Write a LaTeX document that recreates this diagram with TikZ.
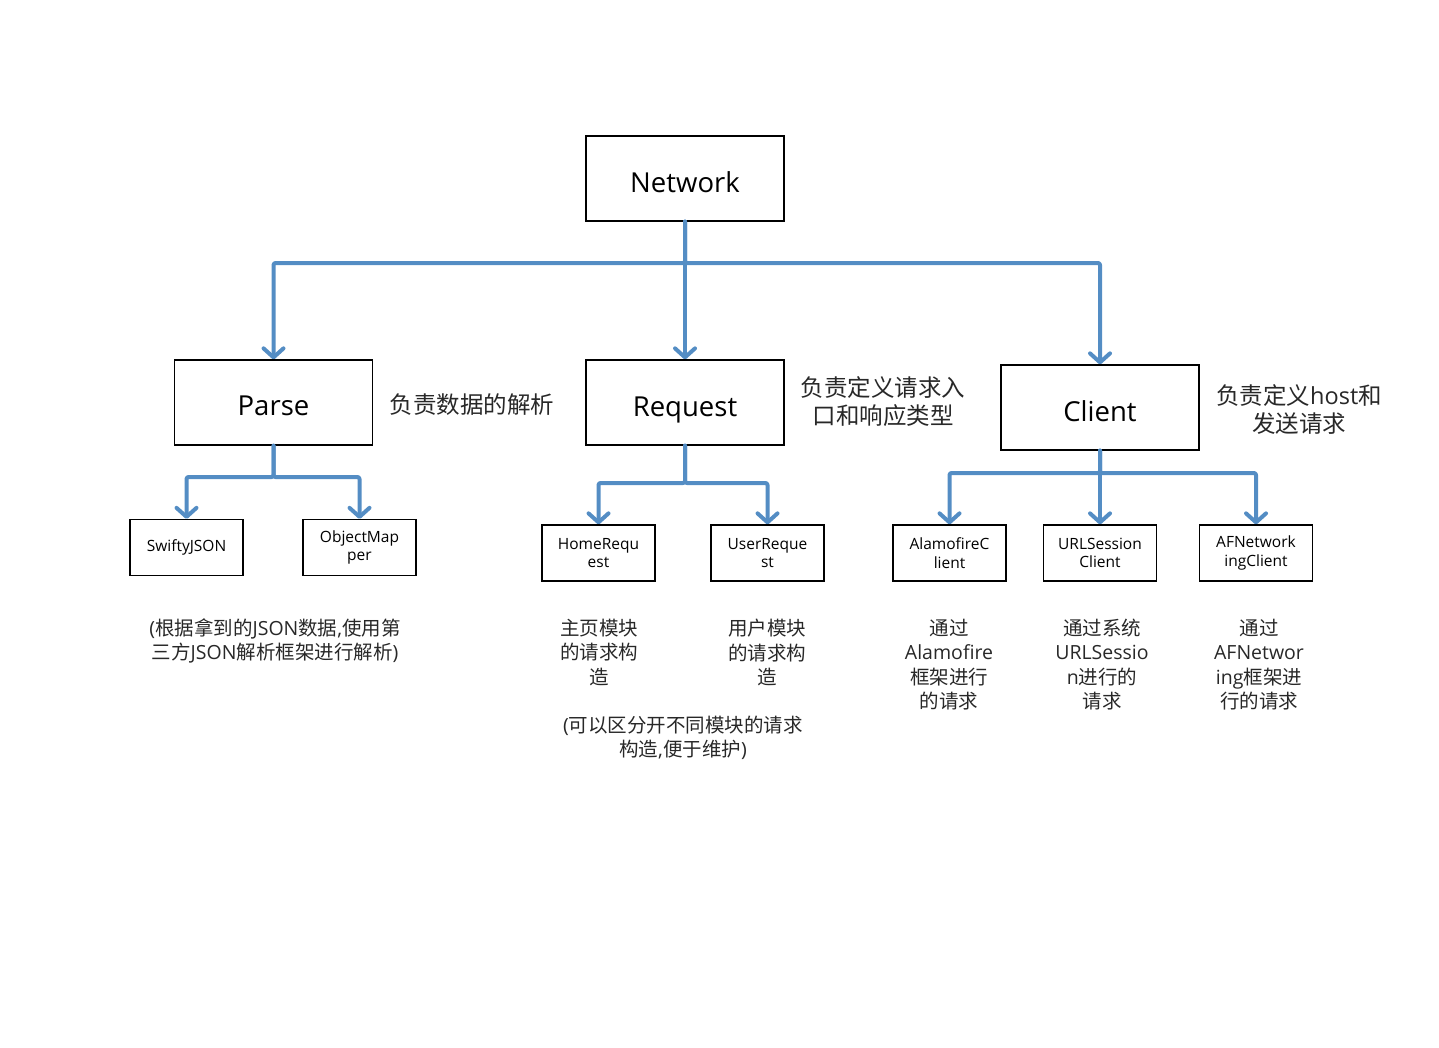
\documentclass[tikz,border=0pt]{standalone}
\usepackage{fontspec}
\setmainfont{Open Sans}
\newfontfamily\cjk{Noto Sans CJK SC}
\usetikzlibrary{arrows.meta}
\definecolor{linkblue}{RGB}{84,141,196}
\definecolor{txt}{RGB}{40,40,40}
\begin{document}
\begin{tikzpicture}[x=1pt,y=-1pt,
  bigbox/.style={draw=black,line width=1.3pt,minimum width=198pt,minimum height=85pt,inner sep=0pt,font=\fontsize{27.5}{32}\selectfont},
  bigtext/.style={inner sep=0pt,font=\fontsize{27.5}{32}\selectfont},
  smallbox/.style={draw=black,line width=1.3pt,minimum width=113pt,minimum height=56pt,inner sep=0pt,align=center,font=\fontsize{15.5}{18.5}\selectfont},
  note/.style={align=center,inner sep=0pt,text=txt,font=\fontsize{23.5}{28}\selectfont},
  subnote/.style={align=center,inner sep=0pt,text=txt,font=\fontsize{19.5}{24.5}\selectfont},
  conn/.style={draw=linkblue,line width=4pt,line cap=round,line join=round,rounded corners=2pt,
    -{Straight Barb[round,length=9pt,width=20pt]}}]
\useasboundingbox (0,0) rectangle (1439,1047);

\node[bigbox] (network) at (685,178.5) {};
\node[bigtext] (networkt) at (685,182) {Network};
\node[bigbox] (parse) at (273.5,402.5) {};
\node[bigtext] (parset) at (273.5,406) {Parse};
\node[bigbox] (request) at (685,402.5) {};
\node[bigtext,anchor=base] (requestt) at (685,416) {Request};
\node[bigbox] (client) at (1100,407.5) {};
\node[bigtext] (clientt) at (1100,411) {Client};

\node[smallbox] (swifty) at (186.5,547.5) {\raisebox{-3pt}{SwiftyJSON}};
\node[smallbox] (objmap) at (359.5,547.5) {ObjectMap\\per};
\node[smallbox] (homereq) at (598.5,553) {HomeRequ\\est};
\node[smallbox] (userreq) at (767.5,553) {UserReque\\st};
\node[smallbox] (alamo) at (949.5,553) {AlamofireC\\lient};
\node[smallbox] (urlsess) at (1100,553) {URLSession\\Client};
\node[smallbox] (afnet) at (1256,553) {AFNetwork\\ingClient};

% connectors
\coordinate (nb) at (685,263);
\coordinate (pb) at (273.5,477);
\coordinate (rb) at (685,483);
\coordinate (cb) at (1100,473);

\draw[conn] (network.south) -- (nb) -| (parse.north);
\draw[conn] (network.south) -- (request.north);
\draw[conn] (network.south) -- (nb) -| (client.north);

\draw[conn] (parse.south) -- (pb) -| (swifty.north);
\draw[conn] (parse.south) -- (pb) -| (objmap.north);

\draw[conn] (request.south) -- (rb) -| (homereq.north);
\draw[conn] (request.south) -- (rb) -| (userreq.north);

\draw[conn] (client.south) -- (cb) -| (alamo.north);
\draw[conn] (client.south) -- (urlsess.north);
\draw[conn] (client.south) -- (cb) -| (afnet.north);

% notes
\node[note] (nparse) at (472,405) {\cjk 负责数据的解析};
\node[note] (nreq) at (883,402) {\cjk 负责定义请求入\\\cjk 口和响应类型};
\node[note] (ncli) at (1299,410) {{\cjk 负责定义}host{\cjk 和}\\\cjk 发送请求};

\node[subnote] (sparse) at (275,641) {({\cjk 根据拿到的}JSON{\cjk 数据},{\cjk 使用第}\\{\cjk 三方}JSON{\cjk 解析框架进行解析})};
\node[subnote] (shome) at (599,652.5) {\cjk 主页模块\\\cjk 的请求构\\\cjk 造};
\node[subnote] (suser) at (767,652.5) {\cjk 用户模块\\\cjk 的请求构\\\cjk 造};
\node[subnote] (sreq) at (683,738) {({\cjk 可以区分开不同模块的请求}\\{\cjk 构造},{\cjk 便于维护})};
\node[subnote] (salamo) at (949,664.5) {\cjk 通过\\Alamofire\\\cjk 框架进行\\\cjk 的请求};
\node[subnote] (surl) at (1102,664.5) {\cjk 通过系统\\URLSessio\\n{\cjk 进行的}\\\cjk 请求};
\node[subnote] (saf) at (1259,664.5) {\cjk 通过\\AFNetwor\\ing{\cjk 框架进}\\\cjk 行的请求};
\end{tikzpicture}
\end{document}
